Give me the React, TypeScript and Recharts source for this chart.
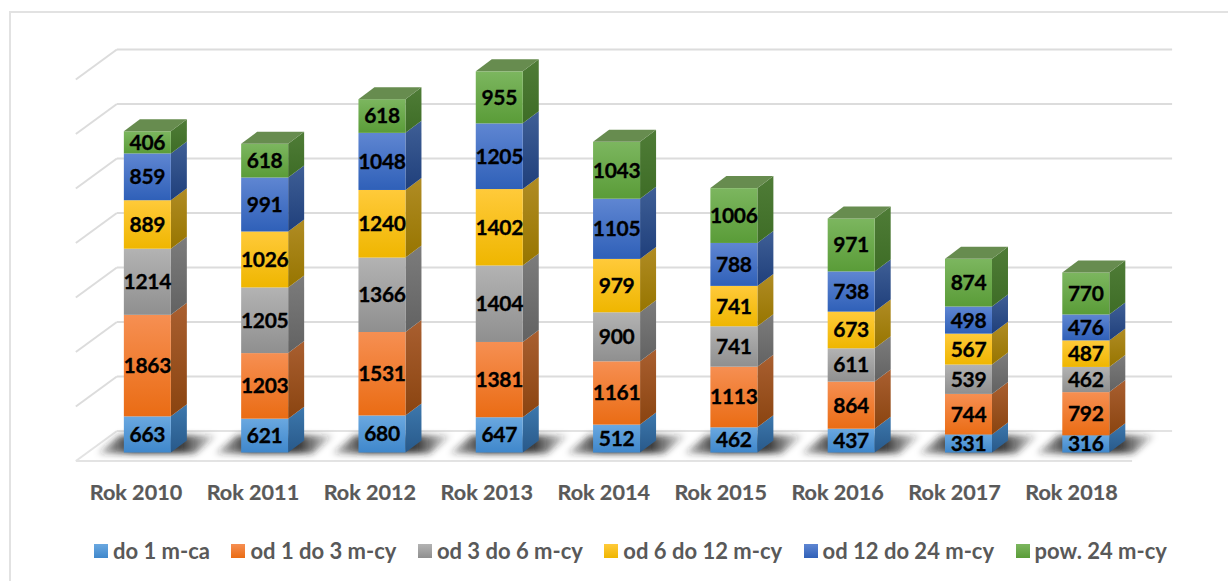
// Stacked bars with a hand-drawn 3D look (Excel style)
import React from 'react';
import { BarChart, Bar, XAxis, YAxis, CartesianGrid, LabelList, Legend } from 'recharts';

const years = ['Rok 2010', 'Rok 2011', 'Rok 2012', 'Rok 2013', 'Rok 2014', 'Rok 2015', 'Rok 2016', 'Rok 2017', 'Rok 2018'];
const do1 = [663, 621, 680, 647, 512, 462, 437, 331, 316];
const od1do3 = [1863, 1203, 1531, 1381, 1161, 1113, 864, 744, 792];
const od3do6 = [1214, 1205, 1366, 1404, 900, 741, 611, 539, 462];
const od6do12 = [889, 1026, 1240, 1402, 979, 741, 673, 567, 487];
const od12do24 = [859, 991, 1048, 1205, 1105, 788, 738, 498, 476];
const pow24 = [406, 618, 618, 955, 1043, 1006, 971, 874, 770];
const yTicks = [0, 1000, 2000, 3000, 4000, 5000, 6000, 7000];

const series = [
  { key: 'do 1 m-ca', values: do1, id: 's0', front: ['#6aa8e0', '#3f87cb'], side: ['#3d78ad', '#28598a'] },
  { key: 'od 1 do 3 m-cy', values: od1do3, id: 's1', front: ['#f68f52', '#ea6c14'], side: ['#a95f30', '#8a4410'] },
  { key: 'od 3 do 6 m-cy', values: od3do6, id: 's2', front: ['#b3b3b3', '#8f8f8f'], side: ['#7c7c7c', '#626262'] },
  { key: 'od 6 do 12 m-cy', values: od6do12, id: 's3', front: ['#ffca3a', '#efb600'], side: ['#b08c24', '#977500'] },
  { key: 'od 12 do 24 m-cy', values: od12do24, id: 's4', front: ['#5f86d2', '#2f60b8'], side: ['#3f5f96', '#1f3f7b'] },
  { key: 'pow. 24 m-cy', values: pow24, id: 's5', front: ['#7cb65f', '#5a9c38'], side: ['#4f7c37', '#3e6d26'] },
];

const data = years.map((name, i) => {
  const row: any = { name };
  series.forEach((s) => { row[s.key] = s.values[i]; });
  return row;
});

const font = 'Lato, Carlito, sans-serif';
const DX = 16;
const DY = 12;

function Box3D(props: any) {
  const { x, y, width: w, height: h, sIdx } = props;
  const s = series[sIdx];
  const base = y + h;
  return (
    <g>
      {sIdx === 0 && (
        <polygon
          points={`${x - 26},${base + 1} ${x - 4},${base - 17} ${x + w + 46},${base - 17} ${x + w + 24},${base + 1}`}
          fill="url(#shadowFill)"
          filter="url(#floorShadow)"
        />
      )}
      <polygon
        points={`${x + w},${y} ${x + w + DX},${y - DY} ${x + w + DX},${base - DY} ${x + w},${base}`}
        fill={`url(#${s.id}side)`}
      />
      <rect x={x} y={y} width={w} height={h} fill={`url(#${s.id}front)`} />
      {sIdx === series.length - 1 && (
        <polygon
          points={`${x},${y} ${x + DX},${y - DY} ${x + w + DX},${y - DY} ${x + w},${y}`}
          fill="#678c4f"
        />
      )}
    </g>
  );
}

// back wall line plus the slanted bit on the side wall, floor gets the extra front edge
function GridLine(props: any) {
  const { x1, x2, y1, index } = props;
  const yBack = y1 - 21.5;
  const yFront = y1 + 8.5;
  const isFloor = Math.abs(y1 - 452.5) < 1;
  const c = isFloor ? '#e3e3e3' : '#dcdcdc';
  return (
    <g key={index} fill="none" stroke={c} strokeWidth={2}>
      <line x1={x1 + 28} y1={yBack} x2={x2 + 27.5} y2={yBack} />
      <line x1={x1 - 13} y1={yFront} x2={x1 + 28} y2={yBack} />
      {isFloor && <line x1={x1 - 13} y1={yFront} x2={x2 - 12.5} y2={yFront} />}
    </g>
  );
}

// labels sit on the front edge of the floor, so they drift left of the bars a bit
function CategoryTick(props: any) {
  const { x, y, payload, index } = props;
  return (
    <text x={x - 11.5 - 0.37 * index} y={y} textAnchor="middle" dominantBaseline="central" fontFamily={font} fontWeight={700} fontSize={21.6} fill="#595959" stroke="#595959" strokeWidth={0.2}>
      {payload.value}
    </text>
  );
}

function LegendRow() {
  return (
    <div style={{ display: 'flex', justifyContent: 'space-between', width: 1073, fontFamily: font, fontWeight: 700, fontSize: 22, color: '#595959' }}>
      {series.map((s) => (
        <div key={s.key} style={{ display: 'flex', alignItems: 'center', gap: 5, whiteSpace: 'nowrap' }}>
          <span style={{ display: 'inline-block', width: 14, height: 14, background: `linear-gradient(${s.front[0]}, ${s.front[1]})` }} />
          {s.key}
        </div>
      ))}
    </div>
  );
}

export default function App() {
  return (
    <div style={{ position: 'absolute', left: 0, top: 0, width: 1228, height: 581, background: '#fff', overflow: 'hidden' }}>
      <div style={{ position: 'absolute', left: 9, top: 11, width: 1219, height: 570, borderTop: '2px solid #e2e2e2', borderLeft: '2px solid #e2e2e2' }} />
      <BarChart
        width={1228}
        height={581}
        data={data}
        margin={{ top: 71, right: 83.4, bottom: 88.5, left: 88.85 }}
        barSize={47}
        style={{ position: 'absolute', left: 0, top: 0 }}
      >
        <defs>
          <filter id="floorShadow" x="-30%" y="-100%" width="160%" height="300%">
            <feGaussianBlur stdDeviation="3" />
          </filter>
          <linearGradient id="shadowFill" x1="0" y1="0" x2="1" y2="0">
            <stop offset="0%" stopColor="#222" stopOpacity={0.25} />
            <stop offset="30%" stopColor="#222" stopOpacity={0.95} />
            <stop offset="70%" stopColor="#222" stopOpacity={0.9} />
            <stop offset="100%" stopColor="#222" stopOpacity={0.1} />
          </linearGradient>
          {series.map((s) => (
            <React.Fragment key={s.id}>
              <linearGradient id={`${s.id}front`} x1="0" y1="0" x2="0" y2="1">
                <stop offset="0%" stopColor={s.front[0]} />
                <stop offset="100%" stopColor={s.front[1]} />
              </linearGradient>
              <linearGradient id={`${s.id}side`} x1="0" y1="0" x2="0" y2="1">
                <stop offset="0%" stopColor={s.side[0]} />
                <stop offset="100%" stopColor={s.side[1]} />
              </linearGradient>
            </React.Fragment>
          ))}
        </defs>
        <CartesianGrid vertical={false} horizontal={(p: any) => <GridLine {...p} />} horizontalValues={yTicks} />
        <XAxis dataKey="name" axisLine={false} tickLine={false} height={40} tick={<CategoryTick />} tickMargin={33} interval={0} />
        <YAxis hide domain={[0, 7000]} ticks={yTicks} />
        {series.map((s, i) => (
          <Bar key={s.key} dataKey={s.key} stackId="a" isAnimationActive={false} fill={s.front[1]} shape={(p: any) => <Box3D {...p} sIdx={i} />}>
            <LabelList dataKey={s.key} position="center" fill="#000" stroke="#000" strokeWidth={0.3} fontFamily={font} fontWeight={700} fontSize={21} letterSpacing={-0.3} />
          </Bar>
        ))}
        <Legend verticalAlign="middle" content={<LegendRow />} wrapperStyle={{ left: 94, top: 537, width: 1073 }} />
      </BarChart>
    </div>
  );
}
